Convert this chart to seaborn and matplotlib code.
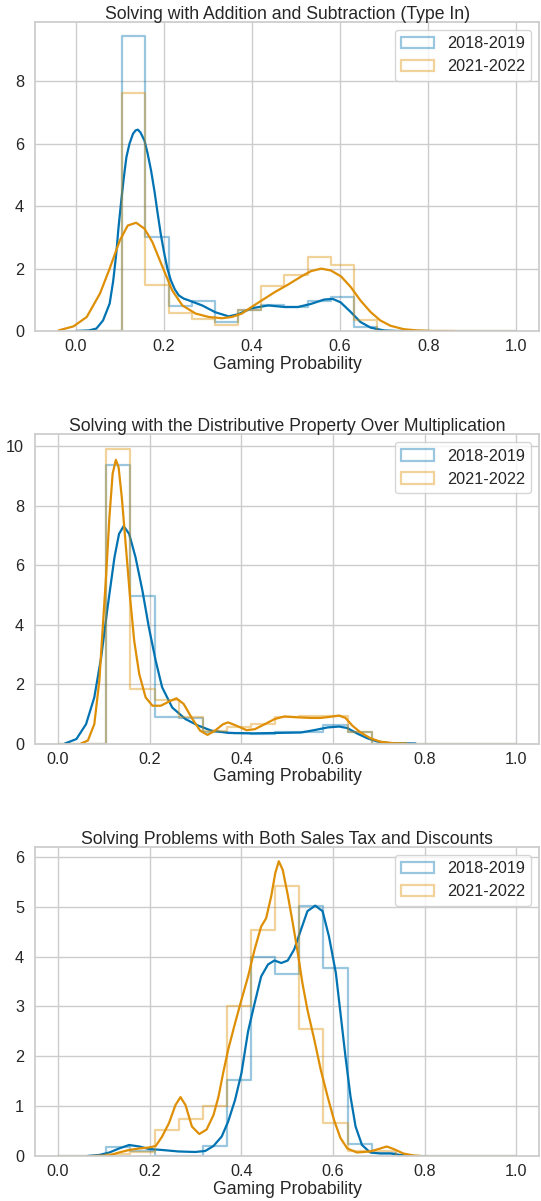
import numpy as np
import pandas as pd
import matplotlib
matplotlib.use("Agg")
import matplotlib.pyplot as plt
from matplotlib.patches import Patch
import seaborn as sns

# --- data ------------------------------------------------------------------
titles = [
    "Solving with Addition and Subtraction (Type In)",
    "Solving with the Distributive Property Over Multiplication",
    "Solving Problems with Both Sales Tax and Discounts",
]
years = ["2018-2019", "2021-2022"]

# 19 equal bins on [0, 1]; density height per bin
hist_1819 = [
    [0, 0, 9.44, 3.01, 0.79, 0.96, 0.29, 0.66, 0.85, 0.78, 0.95, 1.10, 0.12, 0, 0, 0, 0, 0, 0],
    [0, 0, 9.35, 4.97, 0.90, 0.85, 0.37, 0.35, 0.32, 0.37, 0.37, 0.62, 0.37, 0, 0, 0, 0, 0, 0],
    [0, 0, 0.17, 0.10, 0, 0, 0.20, 1.53, 3.99, 3.65, 5.02, 3.77, 0.24, 0.05, 0, 0, 0, 0, 0],
]
hist_2122 = [
    [0, 0, 7.62, 1.49, 0.58, 0.40, 0.18, 0.66, 1.44, 1.78, 2.37, 2.10, 0.36, 0, 0, 0, 0, 0, 0],
    [0, 0, 9.91, 1.83, 1.46, 0.875, 0.43, 0.54, 0.67, 0.88, 0.91, 0.91, 0.39, 0, 0, 0, 0, 0, 0],
    [0, 0, 0.03, 0.07, 0.52, 0.74, 1.00, 3.01, 4.54, 5.41, 2.55, 0.67, 0.09, 0.09, 0, 0, 0, 0, 0],
]

# kde curves (x, density)
kde_x_1819 = [
    [0.0, 0.030, 0.047, 0.062, 0.077, 0.085, 0.092, 0.097, 0.103, 0.109, 0.115, 0.122, 0.130, 0.136,
     0.141, 0.147, 0.156, 0.163, 0.171, 0.179, 0.186, 0.193, 0.201, 0.208, 0.216, 0.225, 0.234, 0.245,
     0.257, 0.287, 0.317, 0.347, 0.369, 0.399, 0.437, 0.474, 0.504, 0.534, 0.564, 0.583, 0.601,
     0.624, 0.646, 0.669, 0.699, 0.729, 0.80],
    [0.015, 0.040, 0.061, 0.079, 0.094, 0.108, 0.123, 0.133, 0.143, 0.155, 0.169, 0.184, 0.198, 0.213,
     0.227, 0.249, 0.278, 0.306, 0.335, 0.371, 0.386, 0.422, 0.458, 0.494, 0.530, 0.559, 0.588, 0.613,
     0.631, 0.652, 0.674, 0.696, 0.724, 0.78],
    [0.065, 0.090, 0.112, 0.133, 0.155, 0.177, 0.198, 0.227, 0.263, 0.299, 0.321, 0.339, 0.357, 0.371,
     0.386, 0.400, 0.4145, 0.429, 0.443, 0.458, 0.472, 0.487, 0.501, 0.515, 0.530, 0.544, 0.561, 0.577,
     0.591, 0.606, 0.616, 0.627, 0.638, 0.649, 0.663, 0.681, 0.703, 0.725, 0.746, 0.775],
]
kde_y_1819 = [
    [0.0, 0.02, 0.08, 0.34, 0.88, 1.60, 2.48, 3.30, 4.13, 4.90, 5.57, 6.00, 6.32, 6.43,
     6.45, 6.36, 6.10, 5.70, 5.14, 4.45, 3.76, 3.10, 2.48, 2.00, 1.62, 1.33, 1.14, 1.04,
     0.98, 0.82, 0.60, 0.47, 0.54, 0.73, 0.82, 0.77, 0.77, 0.87, 1.01, 1.03, 0.92,
     0.61, 0.29, 0.11, 0.02, 0.0, 0.0],
    [0.0, 0.15, 0.65, 1.55, 2.90, 4.58, 6.26, 7.05, 7.31, 7.05, 6.26, 5.14, 3.91, 2.78,
     1.89, 1.21, 0.82, 0.60, 0.43, 0.36, 0.35, 0.34, 0.35, 0.36, 0.37, 0.45, 0.54, 0.57,
     0.52, 0.34, 0.18, 0.07, 0.01, 0.0],
    [0.0, 0.02, 0.07, 0.15, 0.22, 0.19, 0.14, 0.12, 0.09, 0.08, 0.10, 0.20, 0.39, 0.69,
     1.12, 1.66, 2.50, 3.07, 3.60, 3.84, 3.92, 3.87, 3.92, 4.14, 4.54, 4.91, 5.02, 4.91,
     4.40, 3.67, 2.87, 1.99, 1.19, 0.59, 0.22, 0.07, 0.05, 0.05, 0.02, 0.0],
]
kde_x_2122 = [
    [-0.039, -0.005, 0.025, 0.055, 0.077, 0.100, 0.118, 0.137, 0.156, 0.174, 0.197, 0.219, 0.242,
     0.272, 0.302, 0.332, 0.354, 0.377, 0.399, 0.422, 0.452, 0.482, 0.512, 0.534, 0.557, 0.579,
     0.602, 0.624, 0.646, 0.669, 0.691, 0.714, 0.744, 0.774, 0.811, 0.86],
    [0.050, 0.065, 0.079, 0.090, 0.097, 0.105, 0.112, 0.119, 0.126, 0.132, 0.139, 0.148, 0.157,
     0.166, 0.177, 0.191, 0.206, 0.224, 0.242, 0.258, 0.274, 0.292, 0.310, 0.326, 0.342, 0.360,
     0.371, 0.389, 0.411, 0.429, 0.451, 0.472, 0.494, 0.523, 0.551, 0.573, 0.595, 0.613, 0.627,
     0.642, 0.660, 0.681, 0.703, 0.732, 0.76],
    [0.076, 0.112, 0.133, 0.155, 0.177, 0.198, 0.213, 0.227, 0.242, 0.256, 0.267, 0.278, 0.292,
     0.308, 0.324, 0.339, 0.350, 0.360, 0.371, 0.386, 0.400, 0.4145, 0.429, 0.443, 0.454, 0.465,
     0.474, 0.4815, 0.490, 0.501, 0.512, 0.523, 0.533, 0.544, 0.559, 0.573, 0.588, 0.602, 0.616,
     0.631, 0.652, 0.681, 0.703, 0.717, 0.732, 0.753, 0.775, 0.79],
]
kde_y_2122 = [
    [0.02, 0.15, 0.45, 1.20, 2.00, 2.90, 3.38, 3.47, 3.28, 2.85, 2.05, 1.30, 0.82,
     0.56, 0.45, 0.41, 0.45, 0.56, 0.77, 0.98, 1.25, 1.49, 1.75, 1.92, 2.00, 1.94,
     1.75, 1.41, 0.98, 0.61, 0.34, 0.17, 0.06, 0.02, 0.0, 0.0],
    [0.0, 0.10, 0.65, 2.11, 3.79, 5.70, 7.61, 9.07, 9.54, 9.29, 8.28, 6.60, 4.92,
     3.46, 2.34, 1.55, 1.27, 1.27, 1.41, 1.52, 1.33, 0.85, 0.43, 0.29, 0.43, 0.65,
     0.71, 0.60, 0.45, 0.48, 0.65, 0.82, 0.91, 0.88, 0.86, 0.86, 0.90, 0.94, 0.86,
     0.60, 0.37, 0.18, 0.06, 0.01, 0.0],
    [0.0, 0.01, 0.07, 0.12, 0.15, 0.17, 0.20, 0.39, 0.66, 1.02, 1.18, 1.02, 0.59,
     0.44, 0.53, 0.82, 1.19, 1.66, 2.13, 2.66, 3.13, 3.60, 4.15, 4.60, 4.77, 5.21,
     5.68, 5.91, 5.74, 5.24, 4.67, 4.07, 3.47, 2.93, 2.33, 1.73, 1.19, 0.72, 0.36,
     0.15, 0.07, 0.09, 0.15, 0.19, 0.14, 0.05, 0.01, 0.0],
]

bins = np.linspace(0, 1, 20)
bin_mid = (bins[:-1] + bins[1:]) / 2

# --- styling ---------------------------------------------------------------
sns.set_theme(style="whitegrid", context="notebook")
plt.rcParams["font.family"] = ["Liberation Sans", "DejaVu Sans"]
plt.rcParams["xtick.major.pad"] = 0
plt.rcParams["ytick.major.pad"] = 2
colors = sns.color_palette("colorblind")[:2]

fig, axes = plt.subplots(3, 1, figsize=(5.41, 12.01), dpi=100)
fig.subplots_adjust(left=0.065, right=0.997, top=0.982, bottom=0.0375, hspace=0.333)

xlims = [(-0.092, 1.052), (-0.05, 1.05), (-0.05, 1.05)]

for i, ax in enumerate(axes):
    series = [
        (hist_1819[i], kde_x_1819[i], kde_y_1819[i]),
        (hist_2122[i], kde_x_2122[i], kde_y_2122[i]),
    ]
    top = 0
    for (heights, kx, ky), col in zip(series, colors):
        df = pd.DataFrame({"mid": bin_mid, "h": heights})
        sns.histplot(data=df, x="mid", weights="h", bins=bins.tolist(), element="step",
                     fill=False, color=col, alpha=0.4, linewidth=1.6, ax=ax)
        kde = pd.DataFrame({"x": kx, "y": ky})
        sns.lineplot(data=kde, x="x", y="y", color=col, linewidth=1.6,
                     sort=False, ax=ax)
        top = max(top, max(heights), max(ky))
    ax.set_xlim(*xlims[i])
    ax.set_ylim(0, top * 1.05)
    ax.tick_params(labelsize=11.7)
    ax.set_title(titles[i], fontsize=12.7, pad=2)
    ax.set_xlabel("Gaming Probability", fontsize=12.7, labelpad=1)
    ax.set_ylabel("")
    handles = [Patch(facecolor="none", edgecolor=c, alpha=0.4, linewidth=1.6) for c in colors]
    ax.legend(handles, years, loc="upper right", fontsize=11.7)

fig.savefig("out.png", dpi=100)
